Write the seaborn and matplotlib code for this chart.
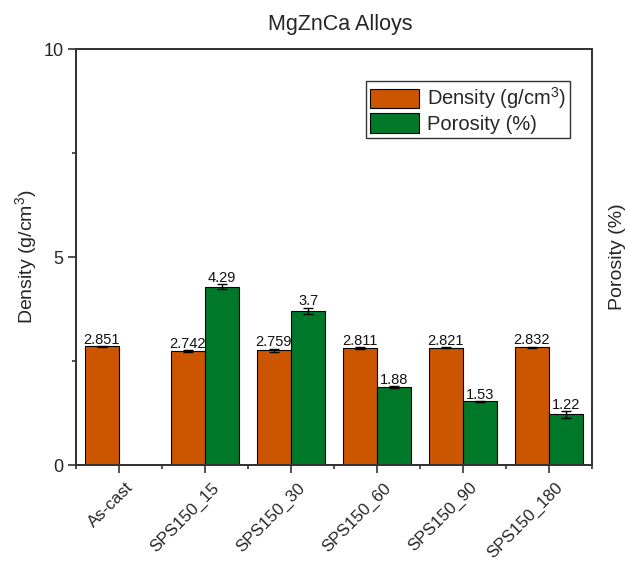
import matplotlib
matplotlib.use('Agg')
import matplotlib.pyplot as plt
import matplotlib.transforms as mtransforms
import seaborn as sns
import numpy as np
import pandas as pd
from matplotlib.ticker import MultipleLocator
from matplotlib.container import BarContainer

categories = ['As-cast', 'SPS150_15', 'SPS150_30', 'SPS150_60', 'SPS150_90', 'SPS150_180']
density = [2.851, 2.742, 2.759, 2.811, 2.821, 2.832]
density_err = [0.01, 0.02, 0.04, 0.03, 0.02, 0.015]
density_labels = ['2.851', '2.742', '2.759', '2.811', '2.821', '2.832']
porosity = [np.nan, 4.29, 3.7, 1.88, 1.53, 1.22]
porosity_err = [np.nan, 0.05, 0.08, 0.02, 0.01, 0.08]
porosity_labels = ['', '4.29', '3.7', '1.88', '1.53', '1.22']
series_names = ['Density (g/cm$^3$)', 'Porosity (%)']
colors = ['#CC5500', '#00782A']

sns.set_theme(style='ticks')
plt.rcParams['font.family'] = ['Liberation Sans', 'DejaVu Sans']
plt.rcParams['mathtext.fontset'] = 'custom'
plt.rcParams['mathtext.rm'] = 'Liberation Sans'
plt.rcParams['mathtext.it'] = 'Liberation Sans:italic'
plt.rcParams['mathtext.bf'] = 'Liberation Sans:bold'

df = pd.DataFrame({
    'Sample': categories * 2,
    'Measure': [series_names[0]] * len(categories) + [series_names[1]] * len(categories),
    'Value': density + porosity,
})

fig = plt.figure(figsize=(6.27, 5.63), dpi=100)
ax = fig.add_axes([76 / 627, 1 - 465 / 563, (592 - 76) / 627, (465 - 49) / 563])

sns.barplot(data=df, x='Sample', y='Value', hue='Measure', order=categories,
            hue_order=series_names, palette=colors, edgecolor='black',
            linewidth=0.8, width=0.8, errorbar=None, saturation=1, ax=ax)

vals = [density, porosity]
errs = [density_err, porosity_err]
labs = [density_labels, porosity_labels]
bar_containers = [c for c in ax.containers if isinstance(c, BarContainer)]
for k, cont in enumerate(bar_containers):
    for p in cont.patches:
        xc = p.get_x() + p.get_width() / 2
        i = int(round(xc))
        v = vals[k][i]
        e = errs[k][i]
        if np.isnan(v):
            continue
        ax.errorbar(xc, v, yerr=e, fmt='none', ecolor='black', elinewidth=1.0,
                    capsize=3.5, capthick=1.0, zorder=5)
        ax.text(xc, v + e + 0.055, labs[k][i], ha='center', va='baseline',
                fontsize=10.5, color='#111111')

ax.set_xlim(-0.5, 5.5)
ax.set_ylim(0, 10)
ax.yaxis.set_major_locator(MultipleLocator(5))
ax.yaxis.set_minor_locator(MultipleLocator(2.5))
ax.set_xticks(np.arange(-0.5, 6, 1), minor=True)
ax.tick_params(axis='both', which='major', length=5.5, width=1.2, color='#333333', pad=3.5)
ax.tick_params(axis='both', which='minor', length=3.2, width=1.2, color='#333333')
ax.tick_params(axis='y', labelsize=13)
ax.set_xticklabels(categories, rotation=45, ha='right', rotation_mode='anchor', fontsize=12.2)
ax.set_xlabel('')
ax.set_ylabel('Density (g/cm$^3$)', fontsize=14, labelpad=3)
ax.set_title('MgZnCa Alloys', fontsize=15.5, pad=14, x=0.512)

for s in ax.spines.values():
    s.set_visible(True)
    s.set_linewidth(1.3)
    s.set_color('#333333')

ax2 = ax.twinx()
ax2.set_ylim(0, 10)
ax2.set_yticks([])
ax2.set_ylabel('Porosity (%)', fontsize=14, labelpad=12)
for s in ax2.spines.values():
    s.set_linewidth(1.3)
    s.set_color('#333333')

offset = mtransforms.ScaledTranslation(6 / 100, -2.5 / 100, fig.dpi_scale_trans)
for tick in ax.xaxis.get_major_ticks():
    tick.label1.set_transform(tick.label1.get_transform() + offset)

handles, labels = ax.get_legend_handles_labels()
if ax.get_legend() is not None:
    ax.get_legend().remove()
leg = ax2.legend(handles, labels, loc='upper right', bbox_to_anchor=(0.957, 0.922),
                 bbox_transform=ax.transAxes, fontsize=14.5, frameon=True, fancybox=False,
                 framealpha=1, edgecolor='#333333', borderpad=0.2, labelspacing=0.1,
                 handlelength=2.4, handleheight=1.1, handletextpad=0.4, borderaxespad=0)
leg.get_frame().set_linewidth(1.0)

fig.savefig('out.png', dpi=100)
